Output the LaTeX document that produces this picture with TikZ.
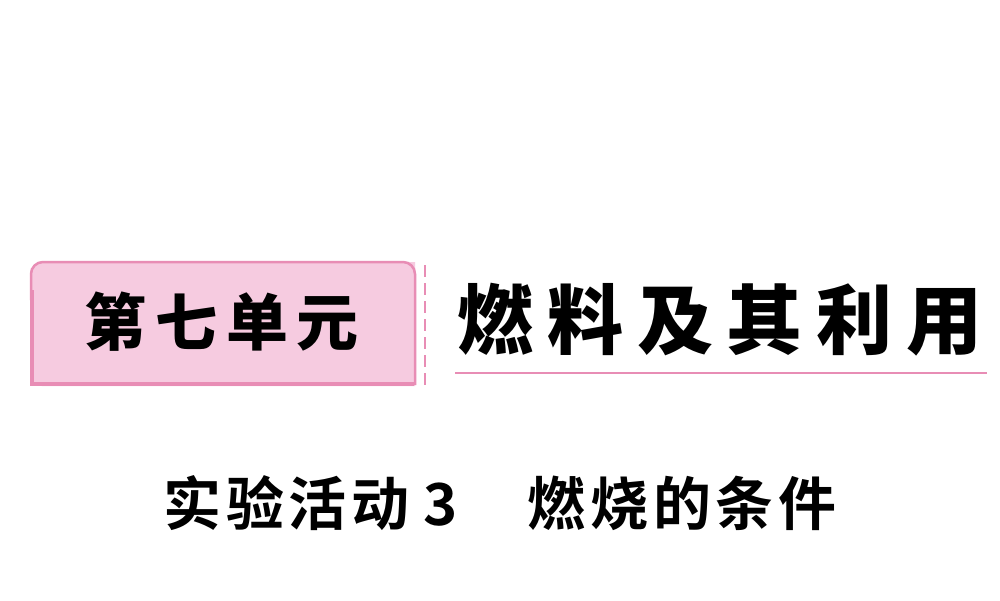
\documentclass[tikz,border=0pt]{standalone}
\usepackage{fontspec}
\newfontfamily\cjkb[LetterSpace=18]{Noto Sans CJK SC Black}
\newfontfamily\cjkbox[LetterSpace=14]{Noto Sans CJK SC Black}
\newfontfamily\cjks[LetterSpace=8]{Noto Sans CJK SC Bold}
\definecolor{pinkfill}{HTML}{F6CBE0}
\definecolor{pinkline}{HTML}{E88DB5}
\begin{document}
\begin{tikzpicture}[x=1pt,y=-1pt,
  lbl/.style={inner sep=0pt,anchor=center}]
\useasboundingbox (0,0) rectangle (1000,600);
\fill[white] (0,0) rectangle (1000,600);
\fill[pinkfill,rounded corners=12pt] (415,262) -- (30,262) -- (30,386) [sharp corners] -- (415,386) -- cycle;
\draw[pinkline,line width=2.5pt,rounded corners=12pt] (415,385) -- (415,262) -- (31,262) -- (31,300);
\draw[pinkline,line width=4.5pt] (32,290) -- (32,384) -- (414,384);
\draw[pinkline,line width=2.5pt,dash pattern=on 12pt off 6pt] (425,265) -- (425,387);
\draw[pinkline,line width=2pt] (455,373) -- (987,373);
\node[lbl] (unit) at (222,322) {\fontsize{62}{62}\cjkbox 第七单元};
\node[lbl] (title) at (720,320) {\fontsize{76}{76}\cjkb 燃料及其利用};
\node[lbl] (sub) at (500,503) {\fontsize{58}{58}\cjks 实验活动\hspace{14pt}3\hspace{70pt}燃烧的条件};
\end{tikzpicture}
\end{document}
